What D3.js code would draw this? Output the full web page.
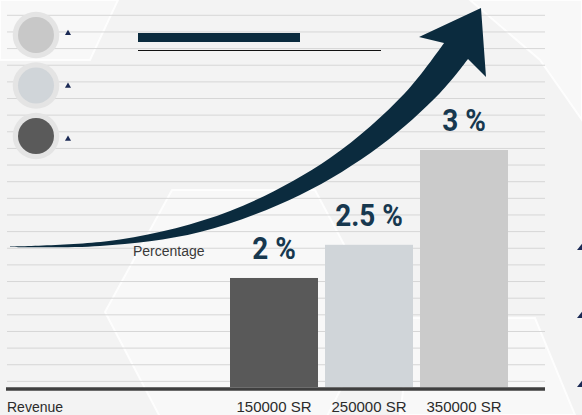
<!DOCTYPE html>
<html>
<head>
<meta charset="utf-8">
<script src="https://cdn.jsdelivr.net/npm/d3@7"></script>
<style>
html,body{margin:0;padding:0;background:#f3f3f3;}
svg{display:block;}
</style>
</head>
<body>
<svg id="chart" width="582" height="415"></svg>
<script>
// ---- data ----
const categories = ["150000 SR", "250000 SR", "350000 SR"];
const percentLabels = ["2 %", "2.5 %", "3 %"];
const barValues = [46, 60, 100];          // relative bar heights
const barColors = ["#595959", "#d0d5d9", "#cbcbcb"];
const legendColors = ["#c8c8c8", "#d0d5d9", "#5a5a5a"];
const axisTitle = "Revenue";
const seriesTitle = "Percentage";

const W = 582, H = 415;
const svg = d3.select("#chart");

// background
svg.append("rect").attr("width", W).attr("height", H).attr("fill", "#f3f3f3");
const bg = svg.append("g");
const polys = [
  [[0,0],[118,0],[90,60],[0,60]],
  [[172,190],[315,190],[380,312],[315,440],[172,440],[105,312]],
  [[412,318],[535,318],[575,415],[400,415]],
  [[470,0],[582,0],[582,120],[540,60]]
];
polys.forEach(p => bg.append("path")
  .attr("d", "M" + p.join("L") + "Z")
  .attr("fill", "#ffffff").attr("fill-opacity", 0.45)
  .attr("stroke", "#ffffff").attr("stroke-width", 2).attr("stroke-opacity", 0.8));

// scales
const x = d3.scaleBand().domain(categories).range([230, 508]).paddingInner(0.0737).paddingOuter(0);
const y = d3.scaleLinear().domain([0, 100]).range([387, 150]);

// grid lines
const gridY = d3.range(0, 23).map(i => 15.3 + i * 16.64);
svg.append("g").selectAll("line").data(gridY).join("line")
  .attr("x1", 7).attr("x2", 545)
  .attr("y1", d => d).attr("y2", d => d)
  .attr("stroke", "#d6d6d6").attr("stroke-width", 1);

// legend placeholder circles
const lg = svg.append("g");
legendColors.forEach((c, i) => {
  const cy = 35 + i * 50.5;
  lg.append("circle").attr("cx", 36).attr("cy", cy).attr("r", 23.3).attr("fill", "#e4e4e4");
  lg.append("circle").attr("cx", 36).attr("cy", cy).attr("r", 18).attr("fill", c);
  lg.append("path").attr("d", d3.symbol(d3.symbolTriangle, 16)())
    .attr("transform", `translate(68,${cy - 1.7 + i * 2.3})`).attr("fill", "#1b2a55");
});

// title placeholder
svg.append("rect").attr("x", 138).attr("y", 33).attr("width", 162).attr("height", 9).attr("fill", "#0b2b3e");
svg.append("line").attr("x1", 138).attr("x2", 381).attr("y1", 50.5).attr("y2", 50.5)
  .attr("stroke", "#111").attr("stroke-width", 1);

// bars
svg.append("g").selectAll("rect").data(categories).join("rect")
  .attr("x", d => x(d)).attr("width", x.bandwidth())
  .attr("y", (d, i) => y(barValues[i]))
  .attr("height", (d, i) => y(0) - y(barValues[i]))
  .attr("fill", (d, i) => barColors[i]);

// axis baseline
svg.append("line").attr("x1", 6).attr("x2", 545).attr("y1", 389).attr("y2", 389)
  .attr("stroke", "#3f3f3f").attr("stroke-width", 3.5);

// x axis labels
const xAxis = d3.axisBottom(x).tickSize(0).tickPadding(0);
const ax = svg.append("g").attr("transform", "translate(0,401)").call(xAxis);
ax.select(".domain").remove();
ax.selectAll("text").attr("font-family", "Liberation Sans, Arial, sans-serif")
  .attr("font-size", 15).attr("fill", "#2b2b2b").attr("dy", "0.71em");

svg.append("text").attr("x", 7).attr("y", 412).text(axisTitle)
  .attr("font-family", "Liberation Sans, Arial, sans-serif").attr("font-size", 14).attr("fill", "#2b2b2b");

// arrow (decorative)
const upper = [[10,246.5],[120,239.5],[230,211],[330,158],[405,93],[444,43]];
const lower = [[468,59],[440,93],[380,146],[300,195],[200,232],[100,246],[10,247]];
const lineGen = d3.line().curve(d3.curveCatmullRom.alpha(0.5));
const head = "L419,37L481,8L486,77L468,59";
svg.append("path")
  .attr("d", lineGen(upper) + head + lineGen(lower).replace(/^M/, "L") + "Z")
  .attr("fill", "#0b2b3e");

svg.append("text").attr("x", 133).attr("y", 256).text(seriesTitle)
  .attr("font-family", "Liberation Sans, Arial, sans-serif").attr("font-size", 14).attr("fill", "#3a3a3a");

// value labels
svg.append("g").selectAll("text").data(categories).join("text")
  .attr("transform", (d, i) => `translate(${x(d) + x.bandwidth() / 2},${y(barValues[i]) - 19}) scale(0.9,1)`)
  .attr("text-anchor", "middle")
  .attr("font-family", "Roboto, sans-serif")
  .attr("font-weight", "bold").attr("font-size", 31).attr("fill", "#17384f")
  .text((d, i) => percentLabels[i]);

// cut-off triangles at right edge
[250, 318, 387].forEach(ty => {
  svg.append("path").attr("d", `M577,${ty}L590,${ty - 16}L600,${ty}Z`).attr("fill", "#1b2a55");
});
</script>
</body>
</html>
